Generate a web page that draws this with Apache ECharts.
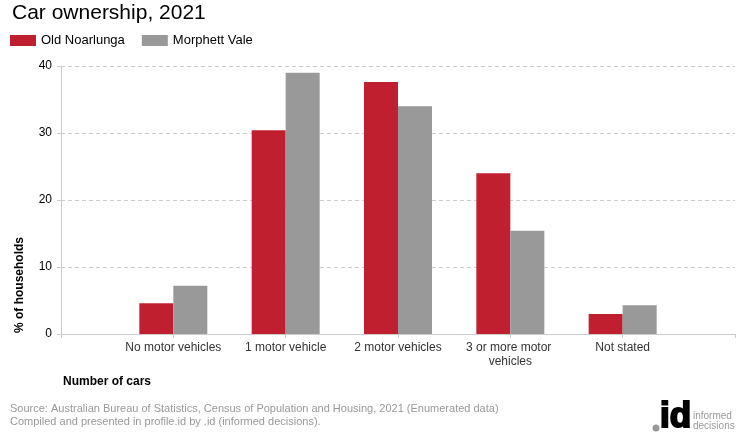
<!DOCTYPE html>
<html><head><meta charset="utf-8">
<script src="https://cdn.jsdelivr.net/npm/echarts@6/dist/echarts.min.js"></script>
<style>html,body{margin:0;padding:0;background:#fff}#c{width:740px;height:440px}</style>
</head><body><div id="c"></div>
<script>
const categories = ['', 'No motor vehicles', '1 motor vehicle', '2 motor vehicles', '3 or more motor vehicles', 'Not stated', ''];
const oldNoarlunga = [null, 4.6, 30.4, 37.6, 24.0, 3.0, null];
const morphettVale = [null, 7.2, 39.0, 34.0, 15.4, 4.3, null];
const yTicks = [0, 10, 20, 30, 40];

const F = 'Arial, "Liberation Sans", sans-serif';
const chart = echarts.init(document.getElementById('c'), null, {renderer: 'canvas'});
chart.setOption({
  animation: false,
  color: ['#c01f2f', '#999999'],
  title: {text: 'Car ownership, 2021', left: 12, top: 3, padding: 0,
    textStyle: {fontFamily: F, fontSize: 21, fontWeight: 'normal', color: '#000'}},
  legend: {left: 10, top: 34, padding: 0, itemWidth: 26, itemHeight: 11, itemGap: 17,
    icon: 'rect', textStyle: {fontFamily: F, fontSize: 13, color: '#000'},
    data: ['Old Noarlunga', 'Morphett Vale']},
  grid: {left: 61, right: 5, top: 66, bottom: 106, containLabel: false, outerBoundsMode: 'none'},
  xAxis: {type: 'category', data: categories, boundaryGap: false,
    axisLine: {lineStyle: {color: '#cccccc'}},
    axisTick: {show: true, length: 4, inside: false, lineStyle: {color: '#cccccc'}},
    axisLabel: {fontFamily: F, fontSize: 12, color: '#333', margin: 7, interval: 0,
      width: 112, overflow: 'break', lineHeight: 14},
    splitLine: {show: false}},
  yAxis: {type: 'value', min: 0, max: 40, interval: 10,
    axisLine: {show: true, lineStyle: {color: '#cccccc'}},
    axisTick: {show: true, length: 4, lineStyle: {color: '#cccccc'}},
    axisLabel: {fontFamily: F, fontSize: 12, color: '#000', margin: 9,
      formatter: v => yTicks.includes(v) ? String(v) : ''},
    splitLine: {lineStyle: {color: '#cccccc', type: [4, 3]}}},
  series: [
    {name: 'Old Noarlunga', type: 'bar', data: oldNoarlunga, barWidth: 34, barGap: '0%'},
    {name: 'Morphett Vale', type: 'bar', data: morphettVale, barWidth: 34, barGap: '0%'}
  ],
  graphic: [
    {type: 'text', x: 14, y: 333, rotation: Math.PI / 2,
      style: {text: '% of households', font: 'bold 12px ' + F, fill: '#000',
        textAlign: 'left', textVerticalAlign: 'top'}},
    {type: 'text', x: 63, y: 376,
      style: {text: 'Number of cars', font: 'bold 12px ' + F, fill: '#000'}},
    {type: 'text', x: 10, y: 403,
      style: {text: 'Source: Australian Bureau of Statistics, Census of Population and Housing, 2021 (Enumerated data)\nCompiled and presented in profile.id by .id (informed decisions).',
        font: '11px ' + F, fill: '#999999', lineHeight: 12.5}},
    {type: 'circle', shape: {cx: 656, cy: 428, r: 3.5}, style: {fill: '#999999'}},
    {type: 'text', x: 660, y: 400,
      style: {text: 'id', font: 'bold 35px ' + F, fill: '#000', stroke: '#000', lineWidth: 2}},
    {type: 'text', x: 693, y: 411,
      style: {text: 'informed\ndecisions', font: '10px ' + F, fill: '#999999', lineHeight: 10}}
  ]
});
</script></body></html>
